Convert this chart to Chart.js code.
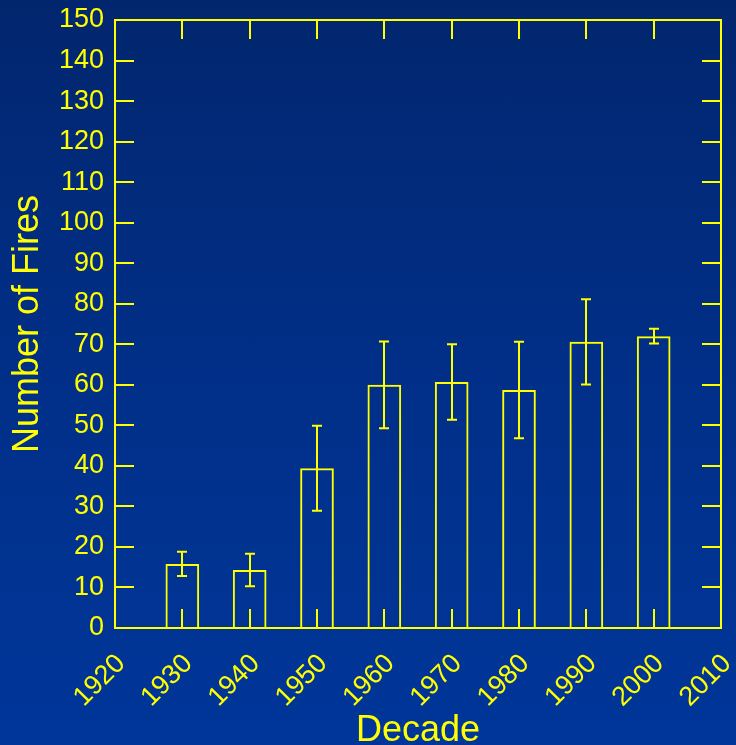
<!DOCTYPE html>
<html>
<head>
<meta charset="utf-8">
<script src="https://cdn.jsdelivr.net/npm/chart.js@4.4.0/dist/chart.umd.min.js"></script>
<style>
  html, body { margin: 0; padding: 0; }
  body {
    width: 736px; height: 745px; overflow: hidden;
    background: linear-gradient(to bottom, #02266e 0%, #012f88 50%, #00369a 100%);
  }
  #wrap { width: 736px; height: 745px; }
</style>
</head>
<body>
<div id="wrap"><canvas id="chart"></canvas></div>
<script>
const decades = [1930, 1940, 1950, 1960, 1970, 1980, 1990, 2000];
const fires = [15.8, 14.3, 39.4, 60.0, 60.7, 58.7, 70.6, 72.0];
const errors = [3.0, 4.0, 10.5, 10.7, 9.3, 11.9, 10.5, 1.8];
const yellow = '#ffff00';

const barPoints = decades.map((d, i) => ({x: d, y: fires[i]}));

// frame, inner tick marks on all four sides, and error bars
const framePlugin = {
    id: 'frame',
    afterDatasetsDraw(chart) {
        const ctx = chart.ctx;
        const a = chart.chartArea;
        const xs = chart.scales.x, ys = chart.scales.y;
        const len = 19;
        ctx.save();
        ctx.strokeStyle = yellow;
        ctx.lineWidth = 2;
        ctx.beginPath();
        ys.ticks.forEach(t => {
            const y = Math.round(ys.getPixelForValue(t.value));
            ctx.moveTo(a.left, y); ctx.lineTo(a.left + len, y);
            ctx.moveTo(a.right, y); ctx.lineTo(a.right - len, y);
        });
        xs.ticks.forEach(t => {
            const x = Math.round(xs.getPixelForValue(t.value));
            ctx.moveTo(x, a.top); ctx.lineTo(x, a.top + len);
            ctx.moveTo(x, a.bottom); ctx.lineTo(x, a.bottom - len);
        });
        ctx.stroke();
        ctx.strokeRect(a.left, a.top, a.right - a.left, a.bottom - a.top);

        // error bars
        ctx.beginPath();
        decades.forEach((d, i) => {
            const x = Math.round(xs.getPixelForValue(d));
            const yt = ys.getPixelForValue(fires[i] + errors[i]);
            const yb = ys.getPixelForValue(fires[i] - errors[i]);
            ctx.moveTo(x, yt); ctx.lineTo(x, yb);
            ctx.moveTo(x - 5, yt); ctx.lineTo(x + 5, yt);
            ctx.moveTo(x - 5, yb); ctx.lineTo(x + 5, yb);
        });
        ctx.stroke();
        ctx.restore();
    }
};

new Chart(document.getElementById('chart').getContext('2d'), {
    type: 'bar',
    data: {
        datasets: [{
            data: barPoints,
            backgroundColor: 'rgba(0,0,0,0)',
            borderColor: yellow,
            borderWidth: 2,
            borderSkipped: 'bottom',
            barPercentage: 0.5,
            categoryPercentage: 1
        }]
    },
    options: {
        responsive: true,
        maintainAspectRatio: false,
        animation: false,
        layout: {padding: {top: 20, right: 15, left: 0, bottom: 0}},
        plugins: {legend: {display: false}, tooltip: {enabled: false}},
        scales: {
            x: {
                type: 'linear',
                min: 1920, max: 2010,
                offset: false,
                grid: {display: false, drawTicks: false, offset: false},
                border: {display: false},
                ticks: {
                    stepSize: 10,
                    color: yellow,
                    font: {family: 'Liberation Sans', size: 27},
                    minRotation: 45, maxRotation: 45,
                    padding: 20,
                    labelOffset: 6,
                    callback: v => String(v)
                },
                title: {
                    display: true, text: 'Decade', color: yellow,
                    font: {family: 'Liberation Sans', size: 36, lineHeight: 0.8},
                    padding: 0
                },
                afterFit: s => { s.height = 117; s.paddingLeft = 0; s.paddingRight = 0; }
            },
            y: {
                min: 0, max: 150,
                grid: {display: false, drawTicks: false},
                border: {display: false},
                ticks: {
                    stepSize: 10,
                    color: yellow,
                    font: {family: 'Liberation Sans', size: 27},
                    padding: 11
                },
                title: {
                    display: true, text: 'Number of Fires', color: yellow,
                    font: {family: 'Liberation Sans', size: 36, lineHeight: 1},
                    padding: {top: 10, bottom: 0}
                },
                afterFit: s => { s.width = 115; s.paddingTop = 0; s.paddingBottom = 0; }
            }
        }
    },
    plugins: [framePlugin]
});
</script>
</body>
</html>
